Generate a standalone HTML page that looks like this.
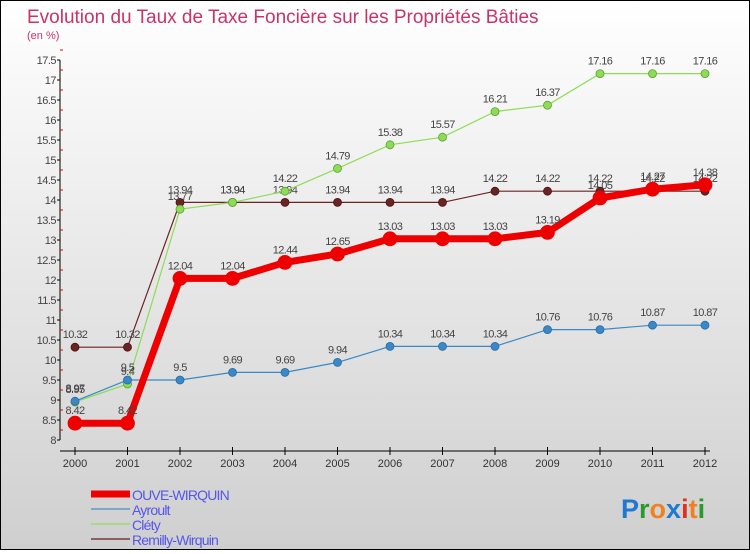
<!DOCTYPE html>
<html><head><meta charset="utf-8"><style>
body{margin:0;width:750px;height:550px;overflow:hidden}
#wrap{position:relative;width:748px;height:548px;border:1px solid #000;background:linear-gradient(#fff,#cfcfcf);font-family:"Liberation Sans",sans-serif}
</style></head><body>
<div id="wrap">
<svg id="c" width="748" height="548">
<text x="26" y="22" font-size="19" fill="#c8336a">Evolution du Taux de Taxe Foncière sur les Propriétés Bâties</text>
<text x="26" y="38" font-size="11" fill="#c8336a">(en %)</text>
<text x="620" y="517" font-size="27" font-weight="bold"><tspan fill="#1e7ad0">P</tspan><tspan fill="#2a9a30">r</tspan><tspan fill="#f08020">o</tspan><tspan fill="#1e7ad0">x</tspan><tspan fill="#e03020">i</tspan><tspan fill="#f08020">t</tspan><tspan fill="#2a9a30">i</tspan></text>
</svg>
</div>
<script>
const years=[2000,2001,2002,2003,2004,2005,2006,2007,2008,2009,2010,2011,2012];
const yTicks=[8,8.5,9,9.5,10,10.5,11,11.5,12,12.5,13,13.5,14,14.5,15,15.5,16,16.5,17,17.5];
const ouve=[8.42,8.42,12.04,12.04,12.44,12.65,13.03,13.03,13.03,13.19,14.05,14.27,14.38];
const ayroult=[8.97,9.5,9.5,9.69,9.69,9.94,10.34,10.34,10.34,10.76,10.76,10.87,10.87];
const clety=[8.95,9.4,13.77,13.94,14.22,14.79,15.38,15.57,16.21,16.37,17.16,17.16,17.16];
const remilly=[10.32,10.32,13.94,13.94,13.94,13.94,13.94,13.94,14.22,14.22,14.22,14.22,14.22];
const NS='http://www.w3.org/2000/svg';
const svg=document.getElementById('c');
const X=i=>74+i*52.5;
const Y=v=>439-(v-8)*40;
function mk(t,a){const e=document.createElementNS(NS,t);for(const k in a)e.setAttribute(k,a[k]);svg.appendChild(e);return e;}
let ax=mk('line',{x1:59,y1:Y(17.5),x2:59,y2:Y(8),stroke:'#000'});


yTicks.forEach(v=>{
 mk('line',{x1:56,x2:59,y1:Y(v),y2:Y(v),stroke:'#000'});
 mk('line',{x1:59,x2:62,y1:Y(v+0.25),y2:Y(v+0.25),stroke:'#e00'});
 const t=mk('text',{x:55,y:Y(v)+4,'font-size':11,'text-anchor':'end',fill:'#444','letter-spacing':'-0.5'});
 t.textContent=String(v);
 
 
});
let xa=mk('line',{x1:59,x2:X(12)+5,y1:450,y2:450,stroke:'#000'});


years.forEach((y,i)=>{
 mk('line',{x1:X(i),x2:X(i),y1:446,y2:454,stroke:'#000'});
 const t=mk('text',{x:X(i),y:466,'font-size':11,'text-anchor':'middle',fill:'#333'});
 t.textContent=y;
 
 
});
function series(vals,color,w,r,name,stroke){
 const g=mk('g',{});
 
 
 const p=document.createElementNS(NS,'polyline');
 p.setAttribute('points',vals.map((v,i)=>X(i)+','+Y(v)).join(' '));
 p.setAttribute('fill','none');p.setAttribute('stroke',color);p.setAttribute('stroke-width',w);
 g.appendChild(p);
 vals.forEach((v,i)=>{
  const c=document.createElementNS(NS,'circle');
  c.setAttribute('cx',X(i));c.setAttribute('cy',Y(v));c.setAttribute('r',r);
  c.setAttribute('fill',color);c.setAttribute('stroke',stroke);c.setAttribute('stroke-width',0.8);
  
  
  g.appendChild(c);
  const t=document.createElementNS(NS,'text');
  t.setAttribute('x',X(i));t.setAttribute('y',Y(v)-9);t.setAttribute('font-size',11);
  t.setAttribute('text-anchor','middle');t.setAttribute('fill','#444');t.setAttribute('letter-spacing','-0.6');
  t.textContent=String(v);
  
  
  g.appendChild(t);
 });
}
series(remilly,'#6b2424',1.2,4,'series-remilly-wirquin','#4a1010');
series(clety,'#8edc55',1.2,4,'series-clety','#5aa030');
series(ayroult,'#3a88c8',1.2,4,'series-ayroult','#2a6aa0');
series(ouve,'#ee0000',7,7,'series-ouve-wirquin','#ee0000');
const leg=[['OUVE-WIRQUIN','#ee0000',7],['Ayroult','#7aa8c8',2],['Cléty','#a8d888',2],['Remilly-Wirquin','#8a6060',2]];
leg.forEach((l,i)=>{
 const y=493+i*15;
 const ln=mk('line',{x1:90,x2:129,y1:y,y2:y,stroke:l[1],'stroke-width':l[2]});
 
 
 const t=mk('text',{x:131,y:y+6,'font-size':14,fill:'#5555ee','letter-spacing':'-0.8'});
 t.textContent=l[0];
 
 
});
</script>
</body></html>
